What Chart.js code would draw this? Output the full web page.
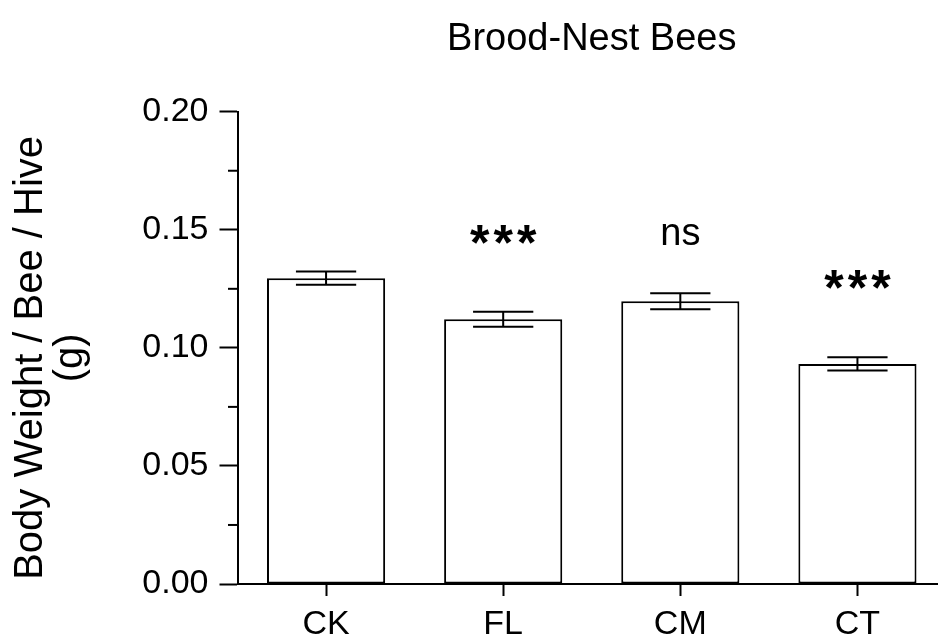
<!DOCTYPE html>
<html>
<head>
<meta charset="utf-8">
<script src="https://cdn.jsdelivr.net/npm/chart.js@4/dist/chart.umd.min.js"></script>
<style>
  html, body { margin: 0; padding: 0; background: #fff; overflow: hidden; }
  #wrap { width: 938px; height: 641px; overflow: hidden; }
  #wrap canvas { display: block; }
</style>
</head>
<body>
<div id="wrap"><canvas id="bees" width="946" height="641"></canvas></div>
<script>
const categories = ['CK', 'FL', 'CM', 'CT'];
const meanWeight = [0.1295, 0.1121, 0.1197, 0.0932];
const semWeight = [0.0028, 0.0032, 0.0034, 0.0028];
const sigLabels = ['', '***', 'ns', '***'];
const sigLevel = [null, 0.148, 0.148, 0.129];
const yTicks = [0, 0.05, 0.10, 0.15, 0.20];
const yMinorTicks = [0.025, 0.075, 0.125, 0.175];

const FONT = "'Liberation Sans', Arial, Helvetica, sans-serif";
const axisLeft = 237.5;
const axisTop = 111.7;
const axisBottom = 584;

// error bars, minor ticks, significance marks and titles
const extras = {
    id: 'extras',
    afterDatasetsDraw(chart) {
        const { ctx, chartArea, scales: { x, y } } = chart;
        const bars = chart.getDatasetMeta(0).data;
        ctx.save();
        ctx.strokeStyle = '#000';
        ctx.fillStyle = '#000';
        ctx.lineWidth = 2;

        meanWeight.forEach((m, i) => {
            const cx = x.getPixelForValue(i);
            const hi = y.getPixelForValue(m + semWeight[i]);
            const lo = y.getPixelForValue(m - semWeight[i]);
            const half = bars[i].width * 0.255;
            ctx.beginPath();
            ctx.moveTo(cx, hi); ctx.lineTo(cx, lo);
            ctx.moveTo(cx - half, hi); ctx.lineTo(cx + half, hi);
            ctx.moveTo(cx - half, lo); ctx.lineTo(cx + half, lo);
            ctx.stroke();
        });

        yMinorTicks.forEach(v => {
            const py = y.getPixelForValue(v);
            ctx.beginPath();
            ctx.moveTo(chartArea.left - 9.5, py);
            ctx.lineTo(chartArea.left, py);
            ctx.stroke();
        });

        ctx.textAlign = 'center';
        ctx.textBaseline = 'alphabetic';
        sigLabels.forEach((s, i) => {
            if (!s) return;
            const cx = x.getPixelForValue(i);
            const cy = y.getPixelForValue(sigLevel[i]);
            if (s === 'ns') {
                ctx.font = '38px ' + FONT;
                ctx.letterSpacing = '0px';
                ctx.fillText(s, cx, cy + 11);
            } else {
                ctx.font = 'bold 50px ' + FONT;
                ctx.letterSpacing = '4px';
                ctx.fillText(s, cx + 2, cy + 26);
            }
        });
        ctx.letterSpacing = '0px';

        ctx.font = '38px ' + FONT;
        ctx.fillText('Brood-Nest Bees', (chartArea.left + chartArea.right) / 2, 50);

        const midY = (chartArea.top + chartArea.bottom) / 2 + 10;
        ctx.font = '40px ' + FONT;
        [['Body Weight / Bee / Hive', 42], ['(g)', 82]].forEach(([t, bx]) => {
            ctx.save();
            ctx.translate(bx, midY);
            ctx.rotate(-Math.PI / 2);
            ctx.fillText(t, 0, 0);
            ctx.restore();
        });
        ctx.restore();
    }
};

const ctx = document.getElementById('bees').getContext('2d');
new Chart(ctx, {
    type: 'bar',
    data: {
        labels: categories,
        datasets: [{
            data: meanWeight,
            backgroundColor: '#fff',
            borderColor: '#000',
            borderWidth: 2,
            borderSkipped: false,
            barPercentage: 0.667,
            categoryPercentage: 1
        }]
    },
    options: {
        responsive: false,
        animation: false,
        layout: { padding: { top: axisTop, left: 0, right: 0, bottom: 0 } },
        plugins: {
            legend: { display: false },
            tooltip: { enabled: false },
            title: { display: false }
        },
        scales: {
            x: {
                offset: true,
                grid: {
                    drawOnChartArea: false,
                    offset: false,
                    tickLength: 12,
                    tickColor: '#000',
                    tickWidth: 2
                },
                border: { color: '#000', width: 2 },
                ticks: {
                    color: '#000',
                    font: { family: FONT, size: 34 },
                    padding: 8,
                    maxRotation: 0
                },
                afterFit(s) { s.height = 641 - axisBottom; }
            },
            y: {
                min: 0,
                max: 0.2,
                afterBuildTicks(s) { s.ticks = yTicks.map(v => ({ value: v })); },
                grid: {
                    drawOnChartArea: false,
                    tickLength: 18,
                    tickColor: '#000',
                    tickWidth: 2
                },
                border: { color: '#000', width: 2 },
                ticks: {
                    color: '#000',
                    font: { family: FONT, size: 34 },
                    padding: 11,
                    callback: v => v.toFixed(2)
                },
                afterFit(s) { s.width = axisLeft; }
            }
        }
    },
    plugins: [extras]
});
</script>
</body>
</html>
